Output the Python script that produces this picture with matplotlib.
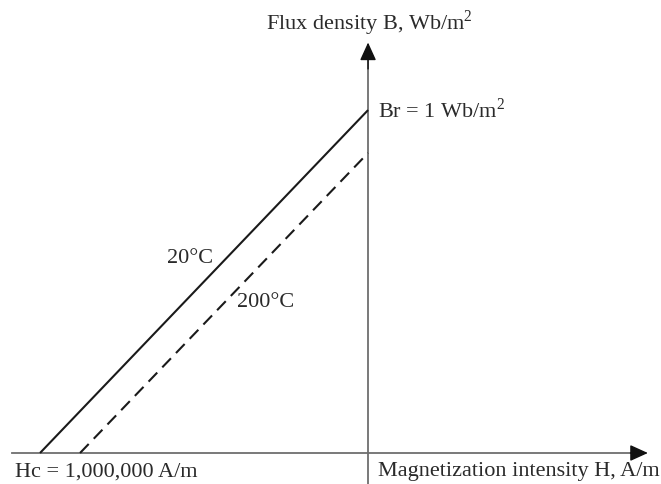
import matplotlib
matplotlib.use("Agg")
import matplotlib.pyplot as plt

# Data (H in A/m, B in Wb/m^2)
H_20 = [-1.0e6, 0.0]
B_20 = [0.0, 1.0]
H_200 = [-0.878e6, 0.0]
B_200 = [0.0, 0.875]

labels = {
    "yaxis": "Flux density B, Wb/m$^2$",
    "xaxis": "Magnetization intensity H, A/m",
    "br": "Br = 1 Wb/m$^2$",
    "hc": "Hc = 1,000,000 A/m",
    "t20": "20°C",
    "t200": "200°C",
}

plt.rcParams['font.family'] = ['Liberation Serif', 'DejaVu Serif']
plt.rcParams['mathtext.fontset'] = 'custom'
plt.rcParams['mathtext.rm'] = 'Liberation Serif'

fig = plt.figure(figsize=(6.61, 4.84), dpi=100)
ax = fig.add_axes([0, 0, 1, 1])
ax.set_xlim(-1.122e6, 0.893e6)
ax.set_ylim(-0.0904, 1.321)
ax.axis('off')

txt_color = '#2a2a2a'
axis_gray = '#6e6e6e'

# Axis lines (gray) with black arrowheads
ax.plot([-1.085e6, 0.84e6], [0, 0], color=axis_gray, lw=1.3)
ax.plot([0, 0], [-0.0904, 1.18], color=axis_gray, lw=1.3)
arrow = dict(arrowstyle='-|>,head_length=0.55,head_width=0.25', mutation_scale=20,
             lw=1.0, color='#111111', shrinkA=0, shrinkB=0)
ax.annotate('', xy=(0.853e6, 0), xytext=(0.80e6, 0), arrowprops=arrow)
ax.annotate('', xy=(0, 1.197), xytext=(0, 1.12), arrowprops=arrow)

# Lines
ax.plot(H_20, B_20, color='#1a1a1a', lw=1.5, solid_capstyle='butt')
ax.plot(H_200, B_200, color='#1a1a1a', lw=1.5, linestyle=(0, (6, 3.5)))

fs = 16
ax.text(0.003e6, 1.233, labels["yaxis"], ha='center', va='baseline', fontsize=fs, color=txt_color)
ax.text(0.03e6, 1.0, labels["br"], ha='left', va='center', fontsize=fs, color=txt_color)
ax.text(-0.543e6, 0.568, labels["t20"], ha='center', va='center', fontsize=fs, color=txt_color)
ax.text(-0.311e6, 0.44, labels["t200"], ha='center', va='center', fontsize=fs, color=txt_color)
ax.text(-1.076e6, -0.055, labels["hc"], ha='left', va='center', fontsize=fs, color=txt_color)
ax.text(0.03e6, -0.055, labels["xaxis"], ha='left', va='center', fontsize=fs, color=txt_color)

fig.savefig('out.png', dpi=100)
